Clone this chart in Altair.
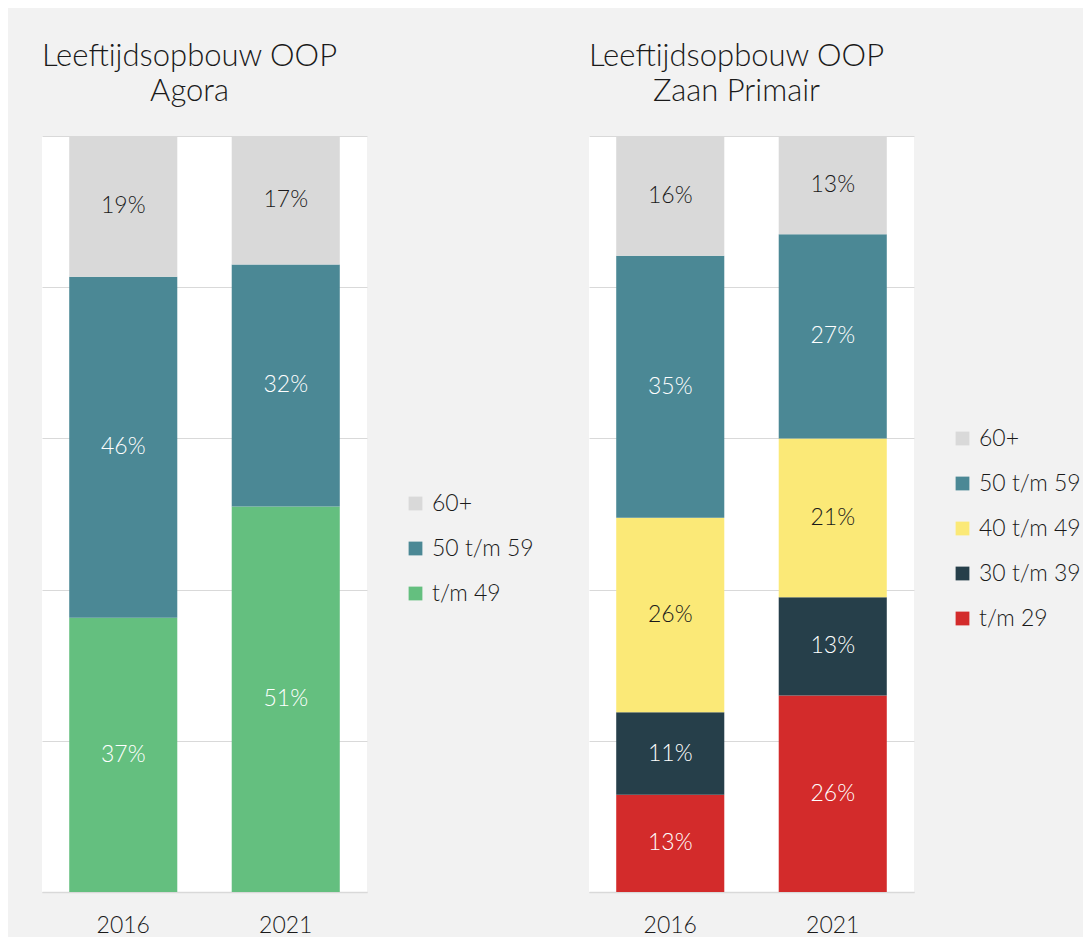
import altair as alt
import pandas as pd

FONT = "Lato"
WEIGHT = 300

years = ["2016", "2021"]

agora_groups = ["t/m 49", "50 t/m 59", "60+"]
agora_2016 = [37, 46, 19]
agora_2021 = [51, 32, 17]
agora_colors = ["#64bf7f", "#4b8895", "#d9d9d9"]

zaan_groups = ["t/m 29", "30 t/m 39", "40 t/m 49", "50 t/m 59", "60+"]
zaan_2016 = [13, 11, 26, 35, 16]
zaan_2021 = [26, 13, 21, 27, 13]
zaan_colors = ["#d32b2b", "#263f4a", "#fbe977", "#4b8895", "#d9d9d9"]

dark_label_groups = ["60+", "40 t/m 49"]


def make_df(groups, v2016, v2021):
    rows = []
    for year, vals in zip(years, [v2016, v2021]):
        for i, (g, v) in enumerate(zip(groups, vals)):
            rows.append({"year": year, "group": g, "value": v, "order": i})
    return pd.DataFrame(rows)


def panel(df, groups, colors, title_lines, legend_y, row_pad):
    base = alt.Chart(df).transform_stack(
        stack="value",
        groupby=["year"],
        sort=[alt.SortField("order", order="ascending")],
        offset="normalize",
        as_=["y0", "y1"],
    ).transform_calculate(
        mid="(datum.y0 + datum.y1) / 2",
        label="datum.value + '%'",
    )

    xenc = alt.X(
        "year:N",
        sort=years,
        scale=alt.Scale(paddingInner=0.335, paddingOuter=0.1675),
        axis=alt.Axis(
            title=None, labelAngle=0, ticks=False, domainColor="#d9d9d9",
            domainWidth=1.5, labelFontSize=23, labelFont=FONT,
            labelFontWeight=WEIGHT,
            labelColor="#1a1a1a", labelPadding=22, grid=False,
        ),
    )

    bars = base.mark_bar().encode(
        x=xenc,
        y=alt.Y(
            "y0:Q",
            scale=alt.Scale(domain=[0, 1]),
            axis=alt.Axis(
                title=None, labels=False, ticks=False, domain=False,
                grid=True, gridColor="#d9d9d9", gridWidth=1.2,
                values=[0, 0.2, 0.4, 0.6, 0.8, 1.0],
            ),
        ),
        y2="y1:Q",
        color=alt.Color(
            "group:N",
            scale=alt.Scale(domain=groups[::-1], range=colors[::-1]),
            legend=alt.Legend(
                title=None, orient="none", legendX=362, legendY=legend_y,
                symbolType="square", symbolSize=190, symbolStrokeWidth=0,
                labelFontSize=23, labelFont=FONT, labelFontWeight=WEIGHT,
                labelColor="#1a1a1a",
                rowPadding=row_pad, labelOffset=5,
            ),
        ),
    )

    cond = " || ".join(f"datum.group == '{g}'" for g in dark_label_groups)
    text = base.mark_text(fontSize=23, font=FONT, fontWeight=WEIGHT).encode(
        x=alt.X("year:N", sort=years),
        y=alt.Y("mid:Q"),
        text="label:N",
        color=alt.condition(cond, alt.value("#1a1a1a"), alt.value("#ffffff")),
    )

    return alt.layer(bars, text).properties(
        width=325,
        height=756,
        title=alt.TitleParams(
            title_lines, anchor="middle", dx=-15, fontSize=31, font=FONT,
            fontWeight=WEIGHT, color="#1a1a1a", lineHeight=35, offset=28,
        ),
    )


left = panel(make_df(agora_groups, agora_2016, agora_2021), agora_groups,
             agora_colors, ["Leeftijdsopbouw OOP", "Agora"], 356, 21)
right = panel(make_df(zaan_groups, zaan_2016, zaan_2021), zaan_groups,
              zaan_colors, ["Leeftijdsopbouw OOP", "Zaan Primair"], 291, 21)

chart = alt.hconcat(left, right, spacing=54).resolve_scale(
    color="independent"
).resolve_legend(color="independent").properties(
    background="#f2f2f2",
    padding={"left": 33, "top": 33, "right": 2, "bottom": 0},
).configure_view(fill="white", stroke=None).configure_concat(spacing=54)

chart.save("out.html", embed_options={"renderer": "svg", "actions": False})
